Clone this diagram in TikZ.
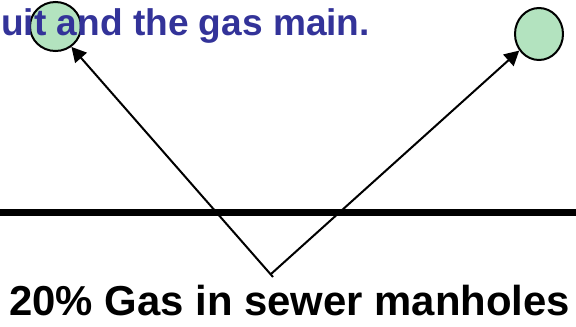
\documentclass[tikz,border=0pt]{standalone}
\usepackage{fontspec}
\setmainfont{Liberation Sans}
\usepackage{xcolor}
\usetikzlibrary{shapes.geometric, arrows.meta, positioning, calc}
\definecolor{bubble}{RGB}{179,227,191}
\definecolor{titleblue}{RGB}{51,51,153}

\begin{document}
\begin{tikzpicture}[
  x=0.75pt, y=-0.75pt,
  bub/.style={draw, ellipse, fill=bubble, line width=1.5pt, inner sep=0pt},
  ar/.style={-{Triangle[length=11pt, width=11.5pt]}, line width=1.5pt},
  ground/.style={line width=5.25pt},
  title/.style={anchor=base west, inner sep=0pt, text=titleblue,
                font=\fontsize{27.8}{30}\selectfont\bfseries},
  caption/.style={anchor=base west, inner sep=0pt,
                  font=\fontsize{31.4}{34}\selectfont\bfseries}
]
\useasboundingbox (0,0) rectangle (576,326);
\node[bub, minimum width=38.25pt, minimum height=36.75pt] at (55.5,26.5) (b-left) {};
\node[bub, minimum width=36pt, minimum height=39pt] at (539,34) (b-right) {};
\node[title] at (1,35) (main) {uit and the gas main.};
\node[caption] at (9,315) (cap) {20\% Gas in sewer manholes};
\coordinate (g-l) at (0,212);
\coordinate (g-r) at (576,212);
\draw[ground] (g-l) -- (g-r);
\coordinate (src-l) at (273,277);
\coordinate (src-r) at (271,274);
\draw[ar] (src-l) -- (b-left.-52);
\draw[ar] (src-r) -- (b-right.-140);
\end{tikzpicture}
\end{document}
